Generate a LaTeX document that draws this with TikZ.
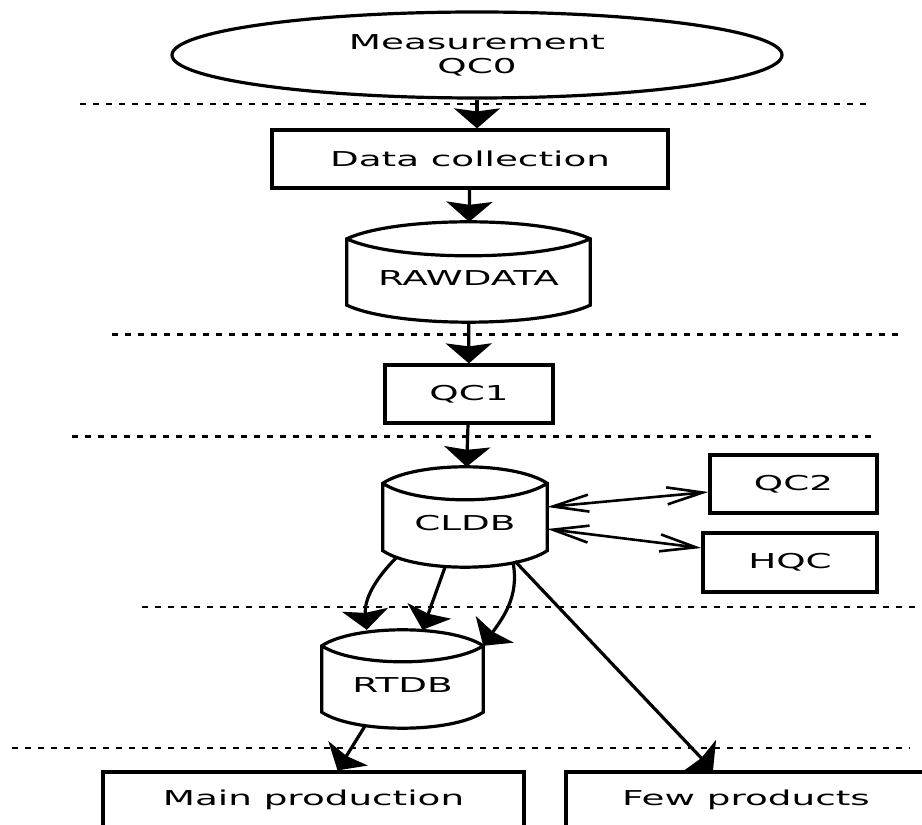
\documentclass[tikz,border=0pt]{standalone}
\usepackage{fontspec}
\newfontfamily\diagfont[FakeStretch=1.82]{DejaVu Sans}
\usetikzlibrary{arrows.meta,shapes.geometric}
\begin{document}
\begin{tikzpicture}[x=1pt,y=1pt,font={\diagfont\fontsize{20.5pt}{24pt}\selectfont},
	box/.style={draw,line width=3.2pt,inner sep=0pt},
	dbase/.style={inner sep=0pt,text height=27pt,text depth=0pt},
	flow/.style={line width=3.2pt,-{Stealth[length=20pt,width=46pt,inset=3pt]}},
	dual/.style={line width=2.6pt,{Straight Barb[length=36pt,width=17pt]}-{Straight Barb[length=36pt,width=17pt]}},
	layer/.style={line width=2.6pt,dash pattern=on 6pt off 7pt}]
	\clip (0,0) rectangle (922,825);
	\node[box,ellipse,minimum width=610pt,minimum height=86pt,align=center] (meas) at (477,770) {Measurement\\QC0};
	\node[box,minimum width=396pt,minimum height=58pt] (collect) at (470,666) {Data collection};
	\node[dbase,minimum width=243pt,minimum height=100pt] (raw) at (468.5,553) {RAWDATA};
	\node[box,minimum width=168pt,minimum height=58pt] (qc1) at (469,431) {QC1};
	\node[dbase,minimum width=164pt,minimum height=100pt] (cldb) at (465,308) {CLDB};
	\node[box,minimum width=167pt,minimum height=58pt] (qc2) at (793.5,341) {QC2};
	\node[box,minimum width=174pt,minimum height=59pt] (hqc) at (790,262.5) {HQC};
	\node[dbase,minimum width=161pt,minimum height=98pt] (rtdb) at (402.5,146) {RTDB};
	\node[box,minimum width=421pt,minimum height=56pt] (mainprod) at (313.5,25) {Main production};
	\node[box,minimum width=360pt,minimum height=56pt] (few) at (746,25) {Few products};
	\foreach \db/\dbw/\rise in {raw/243/17,cldb/164/16.5,rtdb/161/16}{
		\draw[line width=3.2pt] ([yshift=-\rise pt]\db.north west) .. controls +({\dbw/5},{4*\rise/3}) and +({-\dbw/5},{4*\rise/3}) .. ([yshift=-\rise pt]\db.north east)
			-- ([yshift=\rise pt]\db.south east) .. controls +({-\dbw/5},{-4*\rise/3}) and +({\dbw/5},{-4*\rise/3}) .. ([yshift=\rise pt]\db.south west) -- cycle
			([yshift=-\rise pt]\db.north west) .. controls +({\dbw/5},{-4*\rise/3}) and +({-\dbw/5},{-4*\rise/3}) .. ([yshift=-\rise pt]\db.north east);
	}
	\draw[layer] (80,721) -- (868,721);
	\draw[layer] (112,490.5) -- (902,490.5);
	\draw[layer] (72,388.5) -- (878,388.5);
	\draw[layer] (142,218) -- (922,218);
	\draw[layer] (12,77) -- (910,77);
	\draw[flow] (meas.south) -- (meas.south |- collect.north);
	\draw[flow] (collect) -- (raw);
	\draw[flow] (raw) -- (qc1);
	\draw[flow] (qc1) -- (cldb);
	\draw[dual] ([yshift=10pt]cldb.east) -- ([yshift=-8pt]qc2.west);
	\draw[dual] ([yshift=-12pt]cldb.east) -- ([yshift=14.5pt]hqc.west);
	\draw[flow] ([xshift=14pt,yshift=10pt]cldb.south west) to[out=225,in=95] ([xshift=45pt]rtdb.north west);
	\draw[flow] ([xshift=-20pt]cldb.south) -- ([xshift=20pt]rtdb.north);
	\draw[flow] ([xshift=-34pt,yshift=4pt]cldb.south east) to[out=-80,in=55] ([yshift=-16pt]rtdb.north east);
	\draw[flow] ([xshift=50pt,yshift=6pt]cldb.south) -- ([xshift=-33pt]few.north);
	\draw[flow] ([xshift=-37pt,yshift=3pt]rtdb.south) -- ([xshift=24pt]mainprod.north);
\end{tikzpicture}
\end{document}
